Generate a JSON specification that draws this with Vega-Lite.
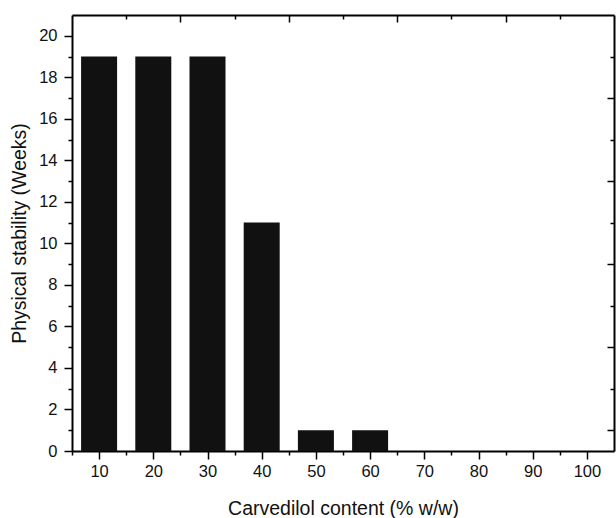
{
  "$schema": "https://vega.github.io/schema/vega-lite/v6.json",
  "width": 542,
  "height": 436,
  "autosize": {"type": "none"},
  "padding": {"left": 72, "top": 15, "right": 2, "bottom": 67},
  "background": "white",
  "config": {
    "view": {"stroke": null},
    "axis": {
      "grid": false,
      "domainColor": "black",
      "domainWidth": 2,
      "tickColor": "black",
      "tickWidth": 1.5,
      "labelFont": "Liberation Sans",
      "labelFontSize": 16.5,
      "labelColor": "#111",
      "titleFont": "Liberation Sans",
      "titleFontSize": 19.5,
      "titleFontWeight": "normal",
      "titleColor": "#111"
    }
  },
  "data": {
    "values": [
      {"content": 10, "weeks": 19},
      {"content": 20, "weeks": 19},
      {"content": 30, "weeks": 19},
      {"content": 40, "weeks": 11},
      {"content": 50, "weeks": 1},
      {"content": 60, "weeks": 1},
      {"content": 70, "weeks": 0},
      {"content": 80, "weeks": 0},
      {"content": 90, "weeks": 0},
      {"content": 100, "weeks": 0}
    ]
  },
  "resolve": {"axis": {"x": "independent", "y": "independent"}},
  "layer": [
    {
      "mark": {"type": "bar", "size": 36, "color": "#111111"},
      "encoding": {
        "x": {
          "field": "content", "type": "quantitative",
          "scale": {"domain": [5, 105], "nice": false, "zero": false, "padding": 0},
          "axis": {"orient": "bottom", "values": [10, 20, 30, 40, 50, 60, 70, 80, 90, 100], "tickSize": 8, "labelPadding": 4, "title": "Carvedilol content (% w/w)", "titlePadding": 20, "labelFlush": false}
        },
        "y": {
          "field": "weeks", "type": "quantitative",
          "scale": {"domain": [0, 21], "nice": false, "padding": 0},
          "axis": {"orient": "left", "values": [0, 2, 4, 6, 8, 10, 12, 14, 16, 18, 20], "tickSize": 8, "labelPadding": 7, "title": "Physical stability (Weeks)", "titlePadding": 9, "labelFlush": false}
        }
      }
    },
    {
      "mark": {"type": "point", "opacity": 0},
      "encoding": {
        "x": {
          "field": "content", "type": "quantitative",
          "axis": {"orient": "bottom", "values": [5, 15, 25, 35, 45, 55, 65, 75, 85, 95], "tickSize": 4, "labels": false, "domain": false, "title": null}
        },
        "y": {
          "field": "weeks", "type": "quantitative",
          "axis": {"orient": "left", "values": [1, 3, 5, 7, 9, 11, 13, 15, 17, 19], "tickSize": 4, "labels": false, "domain": false, "title": null}
        }
      }
    },
    {
      "mark": {"type": "point", "opacity": 0},
      "encoding": {
        "x": {
          "field": "content", "type": "quantitative",
          "axis": {"orient": "top", "values": [25, 45, 65, 85], "tickSize": -7, "labels": false, "domain": true, "title": null}
        },
        "y": {
          "field": "weeks", "type": "quantitative",
          "axis": {"orient": "right", "values": [1, 5, 9, 13, 17], "tickSize": -7, "labels": false, "domain": true, "title": null}
        }
      }
    },
    {
      "mark": {"type": "point", "opacity": 0},
      "encoding": {
        "x": {
          "field": "content", "type": "quantitative",
          "axis": {"orient": "top", "values": [15, 35, 55, 75, 95], "tickSize": -4, "labels": false, "domain": false, "title": null}
        },
        "y": {
          "field": "weeks", "type": "quantitative",
          "axis": {"orient": "right", "values": [3, 7, 11, 15, 19], "tickSize": -4, "labels": false, "domain": false, "title": null}
        }
      }
    }
  ]
}
